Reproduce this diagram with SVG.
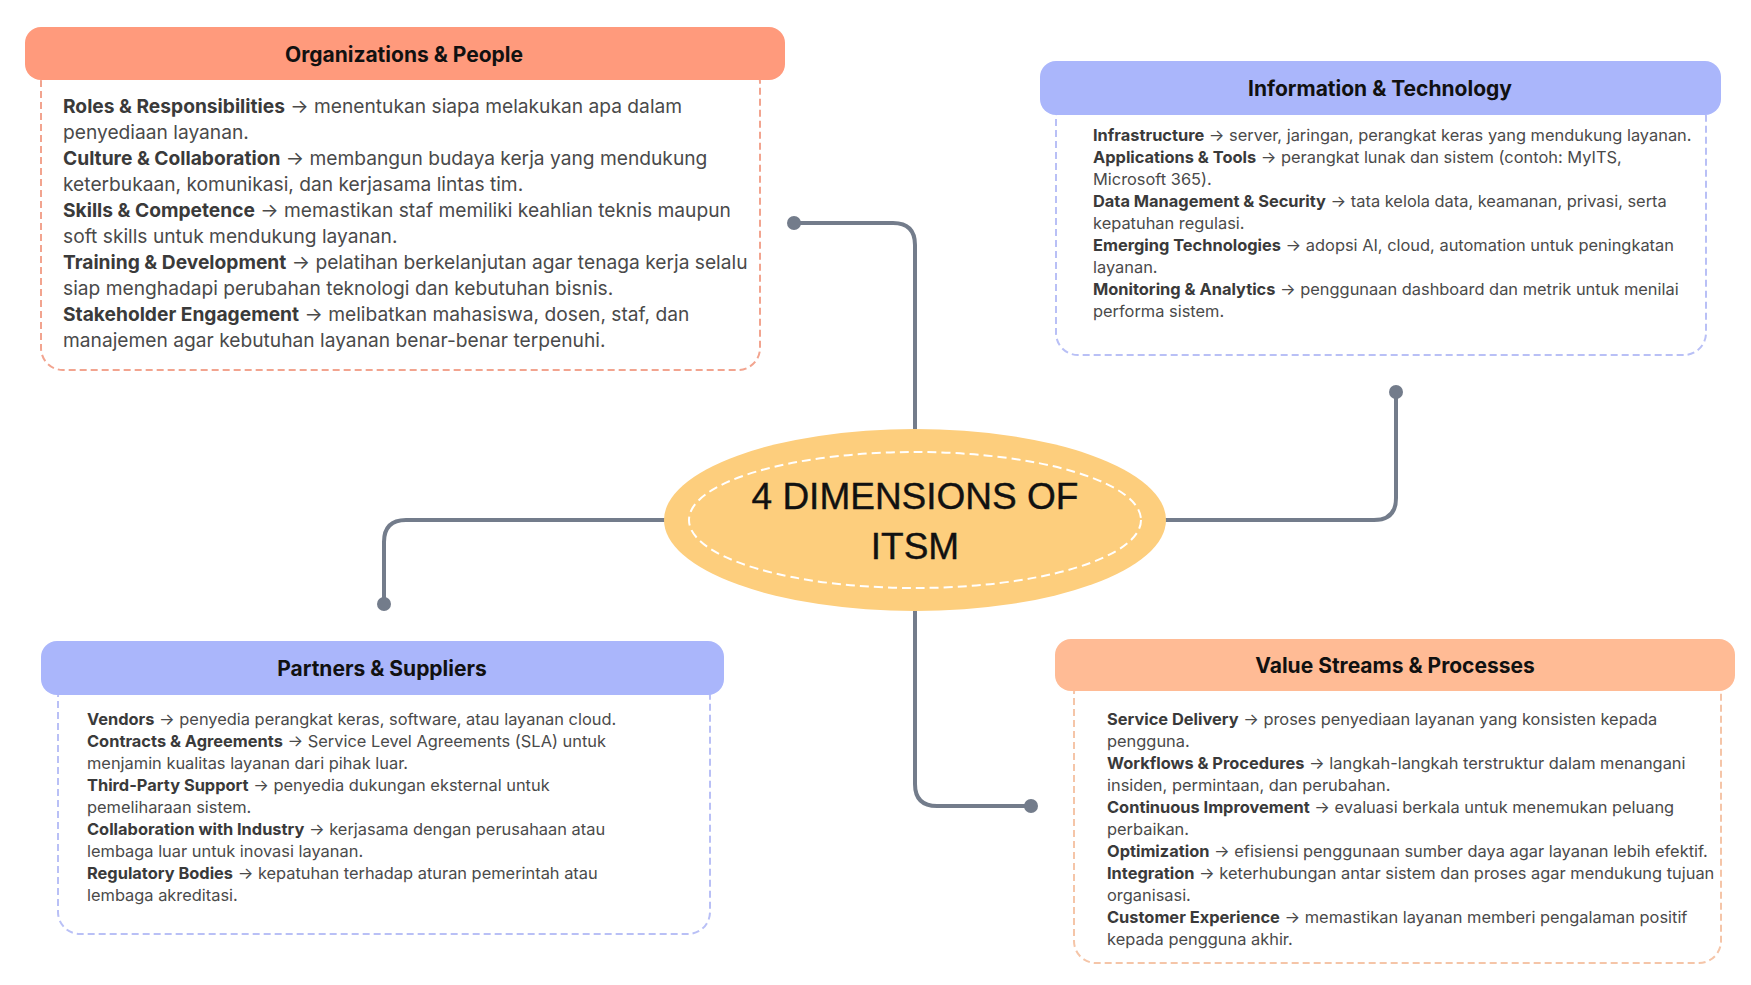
<svg xmlns="http://www.w3.org/2000/svg" width="1751" height="985" viewBox="0 0 1751 985">
  <style>
    .title { font-family: Inter, Roboto, "Liberation Sans", sans-serif; font-weight: 700; font-size: 21px; fill: #111; text-anchor: middle; }
    .body { font-family: Inter, Roboto, "Liberation Sans", sans-serif; fill: #4a4a4a; }
    .big { font-size: 19.2px; }
    .small { font-size: 16.4px; }
    .body tspan.k { font-weight: 700; fill: #3a3a3a; }
    .wire { fill: none; stroke: #737c8b; stroke-width: 4; stroke-linecap: round; }
    .dot { fill: #737c8b; }
    .frame { fill: #fff; stroke-width: 2; stroke-dasharray: 7 4; }
  </style>

  <rect width="1751" height="985" fill="#ffffff"/>

  <!-- connectors from the hub to each dimension -->
  <g id="connectors">
    <path class="wire" d="M915,430 V245 Q915,223 893,223 H794"/>
    <circle class="dot" cx="794" cy="223" r="7"/>
    <path class="wire" d="M1166,520 H1374 Q1396,520 1396,498 V392"/>
    <circle class="dot" cx="1396" cy="392" r="7"/>
    <path class="wire" d="M664,520 H406 Q384,520 384,542 V604"/>
    <circle class="dot" cx="384" cy="604" r="7"/>
    <path class="wire" d="M915,611 V784 Q915,806 937,806 H1031"/>
    <circle class="dot" cx="1031" cy="806" r="7"/>
  </g>

  <!-- hub -->
  <g id="hub">
    <ellipse cx="915" cy="520" rx="251" ry="91" fill="#fdce7d"/>
    <ellipse cx="915" cy="520" rx="226" ry="68" fill="none" stroke="#ffffff" stroke-width="2" stroke-dasharray="9 5"/>
    <text x="915" y="509" font-family="'Liberation Sans', Arial, sans-serif" font-size="37" fill="#111" stroke="#111" stroke-width="0.4" text-anchor="middle">4 DIMENSIONS OF</text>
    <text x="915" y="559" font-family="'Liberation Sans', Arial, sans-serif" font-size="37" fill="#111" stroke="#111" stroke-width="0.4" text-anchor="middle">ITSM</text>
  </g>

  <!-- Organizations & People -->
  <g id="org-people">
    <rect class="frame" x="41" y="60" width="719" height="310" rx="22" stroke="#f2a48f"/>
    <rect x="25" y="27" width="760" height="53" rx="16" fill="#ff9a7c"/>
    <text class="title" x="404" y="62">Organizations &amp; People</text>
    <text class="body big" x="63">
      <tspan x="63" y="113"><tspan class="k">Roles &amp; Responsibilities</tspan> → menentukan siapa melakukan apa dalam</tspan>
      <tspan x="63" y="139">penyediaan layanan.</tspan>
      <tspan x="63" y="165"><tspan class="k">Culture &amp; Collaboration</tspan> → membangun budaya kerja yang mendukung</tspan>
      <tspan x="63" y="191">keterbukaan, komunikasi, dan kerjasama lintas tim.</tspan>
      <tspan x="63" y="217"><tspan class="k">Skills &amp; Competence</tspan> → memastikan staf memiliki keahlian teknis maupun</tspan>
      <tspan x="63" y="243">soft skills untuk mendukung layanan.</tspan>
      <tspan x="63" y="269"><tspan class="k">Training &amp; Development</tspan> → pelatihan berkelanjutan agar tenaga kerja selalu</tspan>
      <tspan x="63" y="295">siap menghadapi perubahan teknologi dan kebutuhan bisnis.</tspan>
      <tspan x="63" y="321"><tspan class="k">Stakeholder Engagement</tspan> → melibatkan mahasiswa, dosen, staf, dan</tspan>
      <tspan x="63" y="347">manajemen agar kebutuhan layanan benar-benar terpenuhi.</tspan>
    </text>
  </g>

  <!-- Information & Technology -->
  <g id="info-tech">
    <rect class="frame" x="1056" y="95" width="650" height="260" rx="22" stroke="#b9c0f6"/>
    <rect x="1040" y="61" width="681" height="54" rx="16" fill="#aab6fb"/>
    <text class="title" x="1380" y="96">Information &amp; Technology</text>
    <text class="body small">
      <tspan x="1093" y="141"><tspan class="k">Infrastructure</tspan> → server, jaringan, perangkat keras yang mendukung layanan.</tspan>
      <tspan x="1093" y="163"><tspan class="k">Applications &amp; Tools</tspan> → perangkat lunak dan sistem (contoh: MyITS,</tspan>
      <tspan x="1093" y="185">Microsoft 365).</tspan>
      <tspan x="1093" y="207"><tspan class="k">Data Management &amp; Security</tspan> → tata kelola data, keamanan, privasi, serta</tspan>
      <tspan x="1093" y="229">kepatuhan regulasi.</tspan>
      <tspan x="1093" y="251"><tspan class="k">Emerging Technologies</tspan> → adopsi AI, cloud, automation untuk peningkatan</tspan>
      <tspan x="1093" y="273">layanan.</tspan>
      <tspan x="1093" y="295"><tspan class="k">Monitoring &amp; Analytics</tspan> → penggunaan dashboard dan metrik untuk menilai</tspan>
      <tspan x="1093" y="317">performa sistem.</tspan>
    </text>
  </g>

  <!-- Partners & Suppliers -->
  <g id="partners-suppliers">
    <rect class="frame" x="58" y="675" width="652" height="259" rx="22" stroke="#b9c0f6"/>
    <rect x="41" y="641" width="683" height="54" rx="16" fill="#aab6fb"/>
    <text class="title" x="382" y="676">Partners &amp; Suppliers</text>
    <text class="body small">
      <tspan x="87" y="725"><tspan class="k">Vendors</tspan> → penyedia perangkat keras, software, atau layanan cloud.</tspan>
      <tspan x="87" y="747"><tspan class="k">Contracts &amp; Agreements</tspan> → Service Level Agreements (SLA) untuk</tspan>
      <tspan x="87" y="769">menjamin kualitas layanan dari pihak luar.</tspan>
      <tspan x="87" y="791"><tspan class="k">Third-Party Support</tspan> → penyedia dukungan eksternal untuk</tspan>
      <tspan x="87" y="813">pemeliharaan sistem.</tspan>
      <tspan x="87" y="835"><tspan class="k">Collaboration with Industry</tspan> → kerjasama dengan perusahaan atau</tspan>
      <tspan x="87" y="857">lembaga luar untuk inovasi layanan.</tspan>
      <tspan x="87" y="879"><tspan class="k">Regulatory Bodies</tspan> → kepatuhan terhadap aturan pemerintah atau</tspan>
      <tspan x="87" y="901">lembaga akreditasi.</tspan>
    </text>
  </g>

  <!-- Value Streams & Processes -->
  <g id="value-streams">
    <rect class="frame" x="1074" y="671" width="647" height="292" rx="22" stroke="#f5c5a8"/>
    <rect x="1055" y="639" width="680" height="52" rx="16" fill="#ffbb95"/>
    <text class="title" x="1395" y="673">Value Streams &amp; Processes</text>
    <text class="body small">
      <tspan x="1107" y="725"><tspan class="k">Service Delivery</tspan> → proses penyediaan layanan yang konsisten kepada</tspan>
      <tspan x="1107" y="747">pengguna.</tspan>
      <tspan x="1107" y="769"><tspan class="k">Workflows &amp; Procedures</tspan> → langkah-langkah terstruktur dalam menangani</tspan>
      <tspan x="1107" y="791">insiden, permintaan, dan perubahan.</tspan>
      <tspan x="1107" y="813"><tspan class="k">Continuous Improvement</tspan> → evaluasi berkala untuk menemukan peluang</tspan>
      <tspan x="1107" y="835">perbaikan.</tspan>
      <tspan x="1107" y="857"><tspan class="k">Optimization</tspan> → efisiensi penggunaan sumber daya agar layanan lebih efektif.</tspan>
      <tspan x="1107" y="879"><tspan class="k">Integration</tspan> → keterhubungan antar sistem dan proses agar mendukung tujuan</tspan>
      <tspan x="1107" y="901">organisasi.</tspan>
      <tspan x="1107" y="923"><tspan class="k">Customer Experience</tspan> → memastikan layanan memberi pengalaman positif</tspan>
      <tspan x="1107" y="945">kepada pengguna akhir.</tspan>
    </text>
  </g>
</svg>
